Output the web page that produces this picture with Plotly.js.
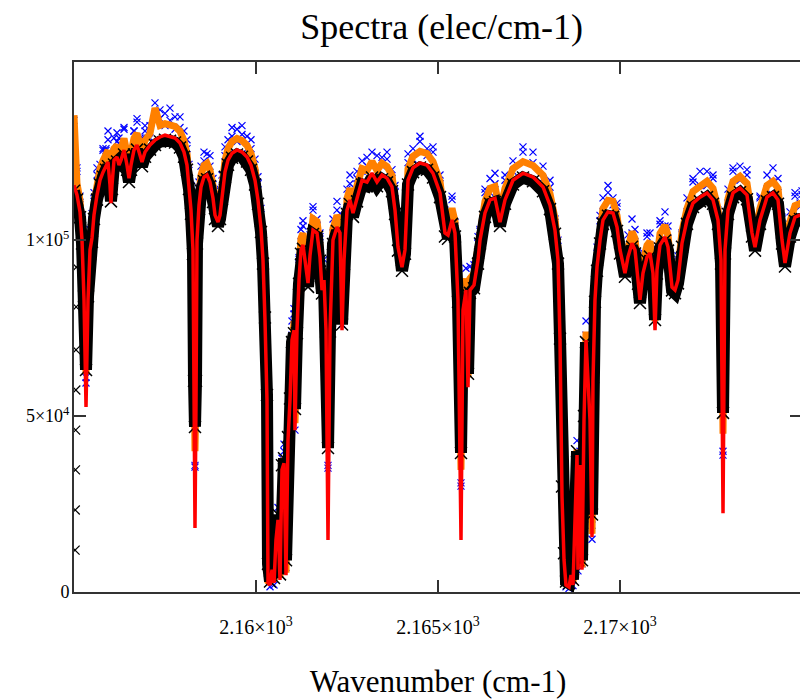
<!DOCTYPE html>
<html><head><meta charset="utf-8">
<script src="https://cdn.plot.ly/plotly-3.0.1.min.js"></script>
<style>html,body{margin:0;padding:0;overflow:hidden;background:#fff;width:800px;height:699px}#chart{width:810px;height:699px}</style>
</head><body><div id="chart"></div><script>
// Wavenumber grid (cm-1)
const wavenumber = [2155.000,2155.082,2155.165,2155.220,2155.275,2155.330,2155.385,2155.440,2155.495,2155.549,
2155.632,2155.714,2155.797,2155.879,2155.934,2155.989,2156.016,2156.044,2156.099,2156.181,
2156.236,2156.291,2156.374,2156.456,2156.511,2156.566,2156.648,2156.731,2156.813,2156.868,
2156.951,2157.088,2157.225,2157.363,2157.500,2157.637,2157.775,2157.912,2158.022,2158.104,
2158.159,2158.214,2158.269,2158.297,2158.324,2158.352,2158.379,2158.434,2158.489,2158.571,
2158.654,2158.736,2158.819,2158.874,2158.956,2159.011,2159.066,2159.148,2159.231,2159.341,
2159.478,2159.615,2159.753,2159.863,2159.973,2160.055,2160.137,2160.192,2160.247,2160.302,
2160.330,2160.385,2160.440,2160.495,2160.549,2160.604,2160.659,2160.714,2160.769,2160.824,
2160.879,2160.934,2160.989,2161.044,2161.071,2161.126,2161.181,2161.236,2161.291,2161.374,
2161.429,2161.484,2161.566,2161.676,2161.758,2161.813,2161.868,2161.923,2161.978,2162.033,
2162.115,2162.225,2162.308,2162.363,2162.418,2162.500,2162.582,2162.665,2162.775,2162.912,
2163.049,2163.187,2163.324,2163.462,2163.599,2163.736,2163.819,2163.901,2164.011,2164.093,
2164.176,2164.313,2164.505,2164.698,2164.863,2165.055,2165.192,2165.275,2165.385,2165.467,
2165.549,2165.632,2165.687,2165.769,2165.824,2165.879,2165.989,2166.099,2166.154,2166.291,
2166.429,2166.566,2166.703,2166.841,2167.060,2167.335,2167.610,2167.885,2168.077,2168.214,
2168.297,2168.352,2168.407,2168.462,2168.516,2168.599,2168.654,2168.709,2168.764,2168.819,
2168.846,2168.901,2168.956,2169.011,2169.066,2169.121,2169.176,2169.231,2169.258,2169.313,
2169.368,2169.451,2169.533,2169.670,2169.808,2169.918,2170.000,2170.137,2170.220,2170.330,
2170.412,2170.495,2170.549,2170.632,2170.742,2170.824,2170.907,2170.962,2171.016,2171.099,
2171.236,2171.319,2171.429,2171.511,2171.593,2171.703,2171.841,2172.005,2172.198,2172.390,
2172.555,2172.692,2172.775,2172.830,2172.885,2172.967,2173.104,2173.297,2173.489,2173.626,
2173.709,2173.846,2174.038,2174.203,2174.341,2174.451,2174.533,2174.670,2174.808,2174.945,
2175.000];

// Red spectrum (elec/cm-1)
const redSpectrum = [115600,112800,108000,100000,83000,52600,83000,97200,100600,107100,
112800,117000,119300,121300,122200,115600,110500,115600,122700,123600,
121300,122700,125600,121300,117600,121300,125600,127000,124100,122200,
125000,127000,128400,129300,129800,129500,129000,127600,125000,121300,
115600,108500,97200,54500,18200,54500,100000,109900,115100,117900,
118500,116500,111900,107100,105100,107100,112800,119300,122700,124700,
125600,125000,123600,121300,117000,111400,103400,94300,77300,54500,
2600,2000,6300,2600,14800,20500,3400,34700,36600,4800,
43200,54500,71600,74400,46000,74400,88600,97200,98600,92900,
87800,95700,102800,102000,95200,85800,88600,74400,14800,74400,
100000,103700,102000,74400,94300,108500,111400,107700,112200,117000,
116500,119000,116500,118500,117600,115100,108500,98000,92300,97200,
117000,120500,121900,121300,119000,113400,102000,101400,105700,102000,
83000,14800,80100,85800,58200,85800,87200,94300,100000,107700,
111400,111900,105100,111400,117000,119000,117900,115100,109900,102800,
94300,71600,27000,9100,2000,1400,4800,2000,20500,38900,
6300,36100,6300,48900,71600,60200,48900,15600,60200,83000,
92300,100000,105700,108000,107700,103700,97200,90600,95200,99100,
97200,88600,83000,90600,95200,96300,90600,74400,91500,98600,
100900,98000,86600,85800,88600,99100,105700,110500,112200,113400,
111400,105700,94300,22400,97200,108500,113400,114800,112800,102000,
98000,105700,112200,113400,111400,100000,93500,102000,106500,107100,
107100];

// Black spectrum (elec/cm-1)
const blackSpectrum = [114000,111500,106500,99000,84000,63100,84000,96000,99500,106000,
111500,115800,118000,120000,121000,114500,111000,114500,121500,122300,
120000,121500,124300,120000,116500,120000,124300,125700,122800,121000,
123700,125700,127000,128000,128500,128200,127700,126300,123700,120000,
114500,107500,96000,60000,46900,60000,99000,108800,114000,116700,
117300,115300,110800,106000,104000,106000,111600,118000,121400,123400,
124300,123700,122300,120000,115800,110300,102300,93300,78000,56000,
8000,3000,9000,4000,16000,22000,5000,36000,38000,9000,
44000,55000,71000,73500,52000,73500,87600,96100,97500,91800,
86700,94600,101700,100900,94100,84800,87600,74000,40900,74000,
98900,102600,100900,76000,93200,107400,110200,106600,111000,115800,
115300,117800,115300,117300,116400,113900,107400,97000,91300,96100,
115800,119300,120600,120000,117800,112200,101000,100400,104600,101000,
82500,39500,79500,85000,62000,85000,86300,93300,99000,106600,
110300,110800,104000,110300,115800,117800,116700,113900,108800,101800,
93300,72000,30000,11000,3000,2500,7000,3500,22000,40000,
9000,37500,9000,50000,71000,61000,50000,22000,61000,82500,
91300,99000,104600,106900,106600,102600,96200,89600,94200,98100,
96200,87600,82100,89600,94200,95300,89600,77300,90500,97600,
99900,97000,85700,84900,87700,98100,104600,109400,111000,112200,
110300,104600,93300,50900,96200,107400,112200,113600,111600,101000,
97000,104600,111000,112200,110300,99000,92500,101000,105400,106000,
106000];

// Orange spectrum (elec/cm-1)
const orangeSpectrum = [135500,116100,111300,103300,86300,62000,86300,100500,103900,110400,
116100,120300,122600,124600,125500,118900,113800,118900,126000,126900,
124600,126000,128900,124600,120900,124600,128900,130300,127400,125500,
128300,130300,137500,132600,133100,132800,132300,130900,128300,124600,
118900,111800,100500,57000,40000,57000,103300,113200,118400,121200,
121800,119800,115200,110400,108400,110400,116100,122600,126000,128000,
128900,128300,126900,124600,120300,114700,106700,97600,80000,57000,
3000,2500,7000,3000,15500,21500,4000,36000,38000,5500,
45000,57000,74000,77000,48000,77000,91900,100500,101900,96200,
91100,99000,106100,105300,98500,89100,91900,77000,42000,77000,
103300,107000,105300,77000,97600,111800,114700,111000,115500,120300,
119800,122300,119800,121800,120900,118400,111800,101300,95600,100500,
120300,123800,125200,124600,122300,116700,105300,104700,109000,105300,
86300,34700,83400,89100,61000,89100,90500,97600,103300,111000,
114700,115200,108400,114700,120300,122300,121200,118400,113200,106100,
97600,74000,28500,9500,2500,2000,5500,2500,21500,40500,
7000,37500,7000,51000,74000,63000,51000,16500,63000,86300,
95600,103300,109000,111300,111000,107000,100500,93900,98500,102400,
100500,91900,86300,93900,98500,99600,93900,77000,94800,101900,
104200,101300,89900,89100,91900,102400,109000,113800,115500,116700,
114700,109000,97600,45000,100500,111800,116700,118100,116100,105300,
101300,109000,115500,116700,114700,103300,96800,105300,109800,110400,
110400];

// Blue spectrum, first set of samples (elec/cm-1)
const blueSpectrum = [134000,119500,112500,105500,89000,59400,85000,103000,105500,113500,
118500,121500,125500,126000,128500,121500,115000,120000,129000,128000,
127500,127000,131500,126000,123500,125500,131000,133500,129000,128000,
131000,132500,139000,134500,136000,134000,135000,132000,131000,126000,
121500,113000,103000,56000,35500,58000,105500,114500,121000,122500,
124500,121000,117500,111500,111000,112000,118500,124000,128500,129500,
131500,130000,129500,126000,123000,116000,109000,98500,82000,59000,
5000,1500,8500,2000,18000,24000,6000,38000,42000,9300,
47000,55000,77000,79000,52500,80000,94500,103000,104000,98500,
90000,101500,108500,106000,101000,88000,94500,79000,35200,76000,
106000,108500,107500,80000,97000,114500,116000,113500,117500,122500,
121000,125000,121000,123500,123000,120000,113500,103000,95000,103000,
122000,126000,128000,126000,125000,118500,105000,107000,111500,105000,
89000,30100,85500,92000,64000,88000,93000,99000,103000,113500,
117500,116000,111000,117000,122500,125000,122000,121000,115000,106000,
100000,77000,31000,12000,1500,3000,8000,1800,24000,43000,
10000,40000,9500,53000,77000,65000,53500,19000,66000,89000,
98000,105500,112000,113500,112000,109500,100000,96500,101500,102000,
103000,91000,89000,96500,101000,102000,93000,80000,97500,104500,
104000,104000,89000,92000,94500,102000,112000,116500,115500,119500,
117500,108500,100000,38900,99500,114500,119500,121000,118500,105000,
104000,112000,118500,116500,117500,106000,96000,108000,112500,110500,
113000];

// Blue spectrum, second set of samples (elec/cm-1)
const blueSpectrum2 = [131000,120500,110000,106500,87000,61000,90000,99000,107500,111000,
120500,119000,126000,125500,131000,118500,116000,123000,125000,130500,
129000,124500,132000,125000,126000,123500,131000,134500,126500,129000,
132500,129000,134000,137000,132500,137500,131500,135000,127000,128500,
117500,115500,99000,50000,36000,50000,101500,116500,117000,125000,
120500,124000,114000,114000,107500,114500,115000,126500,124500,132000,
128000,132500,126000,128500,119000,118000,105500,101000,78000,52000,
4000,3500,6000,4500,14000,19000,5000,33000,40000,7000,
44000,60000,73000,80500,46000,76000,95000,99500,105500,95500,
94500,98000,109500,104000,102000,90500,91000,80000,36000,79000,
102000,111000,104500,76000,100500,111000,118500,110000,119500,119500,
123500,121000,124000,121000,125000,117500,115500,100500,98500,99500,
124500,123000,129500,124000,126500,116000,108500,103500,112500,104000,
85500,31000,86500,88000,63000,92500,89500,101000,102500,114500,
113500,119000,107500,118500,119500,126500,125000,117500,117000,105000,
96500,73000,27000,8000,3500,1000,4500,3500,20000,39000,
6000,36000,8000,49000,73000,62000,50000,15000,62000,85000,
94500,107000,108000,115500,110000,110500,99500,97500,97500,106000,
99500,95500,85500,93000,102000,98500,97500,79000,94000,105500,
108000,100500,93500,88000,95500,101500,108000,117500,119500,115500,
118500,108000,96500,40000,104000,110500,120500,117000,120000,104500,
100500,112500,114500,120500,113500,106500,100000,104500,113500,109500,
114000];

// Black points on the steep start at the left edge
const blackStartWn = [2155.030,2155.035,2155.040,2155.045,2155.050,2155.055,2155.060,2155.065];
const blackStartVal = [11900,23300,34700,46000,57400,68800,81000,92300];

// Axis ticks
const xTickVals = [2160, 2165, 2170];
const xTickText = ['2.16×10<sup>3</sup>', '2.165×10<sup>3</sup>', '2.17×10<sup>3</sup>'];
const yTickVals = [0, 50000, 100000];
const yTickText = ['0', '5×10<sup>4</sup>', '1×10<sup>5</sup>'];

const serif = 'Liberation Serif, Times New Roman, serif';
const blueMarker = {symbol: 'x-thin-open', size: 7, color: '#0000ff', line: {width: 1.2}};

const traces = [
  {x: wavenumber, y: blueSpectrum, type: 'scatter', mode: 'markers', name: 'blue', marker: blueMarker},
  {x: wavenumber, y: blueSpectrum2, type: 'scatter', mode: 'markers', name: 'blue 2', marker: blueMarker},
  {x: wavenumber, y: orangeSpectrum, type: 'scatter', mode: 'lines', name: 'orange',
   line: {color: '#ff8000', width: 7}},
  {x: wavenumber, y: blackSpectrum, type: 'scatter', mode: 'lines+markers', name: 'black',
   line: {color: '#000000', width: 12},
   marker: {symbol: 'x-thin-open', size: 12, color: '#000000', line: {width: 1.5}}},
  {x: blackStartWn, y: blackStartVal, type: 'scatter', mode: 'markers', name: 'black start',
   marker: {symbol: 'x-thin-open', size: 9, color: '#000000', line: {width: 1.2}}},
  {x: wavenumber, y: redSpectrum, type: 'scatter', mode: 'lines', name: 'red',
   line: {color: '#ff0000', width: 3.5}}
];

const layout = {
  width: 810, height: 699,
  margin: {l: 74, r: 8, t: 62, b: 107},
  paper_bgcolor: '#ffffff', plot_bgcolor: '#ffffff',
  showlegend: false,
  title: {text: 'Spectra (elec/cm-1)', font: {family: serif, size: 36, color: '#000'},
          x: 0.505, xref: 'paper', xanchor: 'center', y: 0.962, yref: 'container', yanchor: 'middle'},
  xaxis: {
    range: [2155, 2175], showgrid: false, zeroline: false,
    showline: true, linecolor: '#333333', linewidth: 2, mirror: 'ticks',
    ticks: 'inside', ticklen: 12, tickwidth: 1.5, tickcolor: '#333333',
    tickmode: 'array', tickvals: xTickVals, ticktext: xTickText,
    tickfont: {family: serif, size: 20, color: '#000'}, ticklabelstandoff: 16,
    title: {text: 'Wavenumber (cm-1)', font: {family: serif, size: 31, color: '#000'}, standoff: 36}
  },
  yaxis: {
    range: [0, 150600], showgrid: false, zeroline: false,
    showline: true, linecolor: '#333333', linewidth: 2, mirror: 'ticks',
    ticks: 'inside', ticklen: 12, tickwidth: 1.5, tickcolor: '#333333',
    tickmode: 'array', tickvals: yTickVals, ticktext: yTickText,
    tickfont: {family: serif, size: 18, color: '#000'}, ticklabelstandoff: -1
  }
};

Plotly.newPlot('chart', traces, layout, {displayModeBar: false, staticPlot: true});
</script></body></html>
